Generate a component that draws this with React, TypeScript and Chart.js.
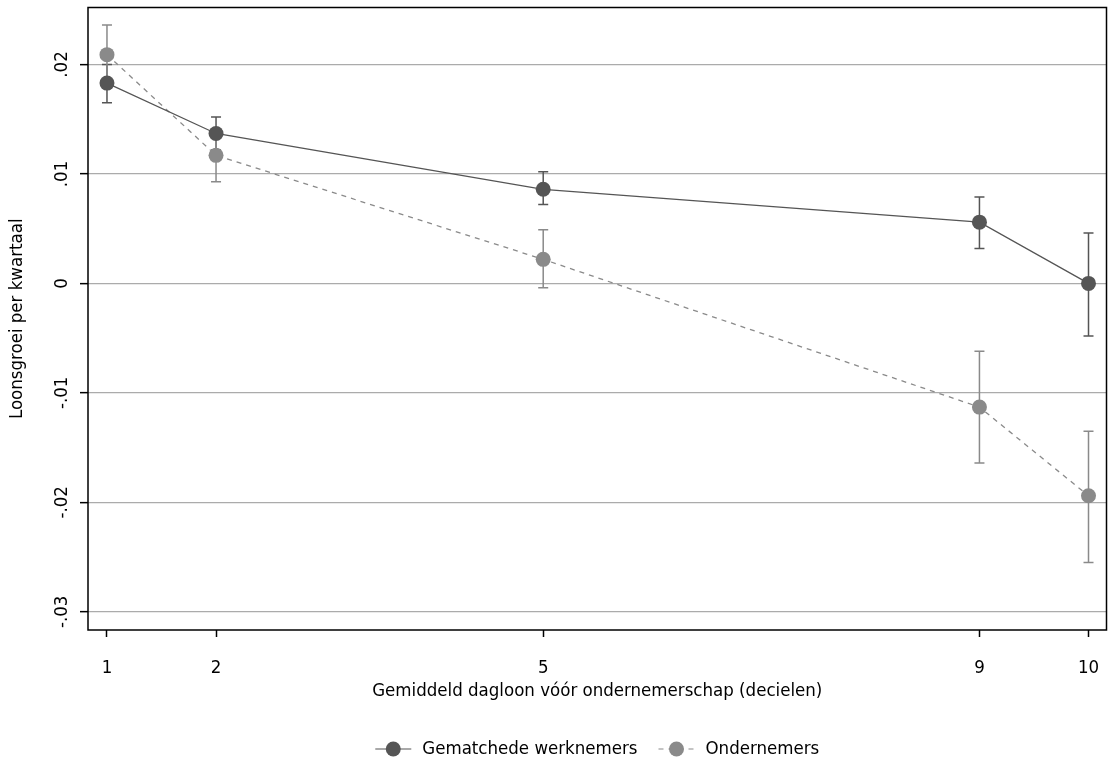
import React, { useEffect, useRef } from "react";
import { Chart, registerables } from "chart.js";

Chart.register(...registerables);

// ---- Data ----
const deciles = [1, 2, 5, 9, 10];
const xTickLabels = ["1", "2", "5", "9", "10"];
const werknemers = [0.0183, 0.0137, 0.0086, 0.0056, 0.0];
const werknemersLow = [0.0165, 0.0122, 0.0072, 0.0032, -0.0048];
const werknemersHigh = [0.02, 0.0152, 0.0102, 0.0079, 0.0046];
const ondernemers = [0.0209, 0.0117, 0.0022, -0.0113, -0.0194];
const ondernemersLow = [0.0182, 0.0093, -0.0004, -0.0164, -0.0255];
const ondernemersHigh = [0.0236, 0.0141, 0.0049, -0.0062, -0.0135];
const yTicks = [-0.03, -0.02, -0.01, 0, 0.01, 0.02];
const yTickLabels = ["-.03", "-.02", "-.01", "0", ".01", ".02"];
const seriesLabels = ["Gematchede werknemers", "Ondernemers"];
const xTitle = "Gemiddeld dagloon vóór ondernemerschap (decielen)";
const yTitle = "Loonsgroei per kwartaal";

// ---- Styles ----
const DARK = "#555555";
const LIGHT = "#8a8a8a";
const FONT = '"DejaVu Sans Condensed", "DejaVu Sans", sans-serif';
const FS = 18.5;
const R = 7.5;

const decor = {
  id: "decor",
  beforeDatasetsDraw(chart: any) {
    const ctx = chart.ctx;
    const xs = chart.scales.x;
    const ys = chart.scales.y;
    const sets: any[] = [
      [werknemersLow, werknemersHigh, DARK],
      [ondernemersLow, ondernemersHigh, LIGHT],
    ];
    ctx.save();
    sets.forEach(([lo, hi, col]) => {
      ctx.strokeStyle = col;
      ctx.lineWidth = 1.5;
      deciles.forEach((d, i) => {
        const px = xs.getPixelForValue(d);
        const y1 = ys.getPixelForValue(lo[i]);
        const y2 = ys.getPixelForValue(hi[i]);
        ctx.beginPath();
        ctx.moveTo(px, y1);
        ctx.lineTo(px, y2);
        ctx.moveTo(px - 5, y1);
        ctx.lineTo(px + 5, y1);
        ctx.moveTo(px - 5, y2);
        ctx.lineTo(px + 5, y2);
        ctx.stroke();
      });
    });
    ctx.restore();
  },
  afterDraw(chart: any) {
    const ctx = chart.ctx;
    const a = chart.chartArea;
    const xs = chart.scales.x;
    const ys = chart.scales.y;
    ctx.save();
    // frame
    ctx.strokeStyle = "#000";
    ctx.lineWidth = 1.5;
    ctx.strokeRect(a.left, a.top, a.right - a.left, a.bottom - a.top);

    ctx.fillStyle = "#000";
    ctx.font = `${FS}px ${FONT}`;
    ctx.textAlign = "center";
    ctx.textBaseline = "middle";

    // y tick labels (rotated)
    yTicks.forEach((v, i) => {
      const py = ys.getPixelForValue(v);
      ctx.save();
      ctx.translate(62, py);
      ctx.rotate(-Math.PI / 2);
      ctx.fillText(yTickLabels[i], 0, 0);
      ctx.restore();
    });
    // y title
    ctx.save();
    ctx.translate(17, (a.top + a.bottom) / 2);
    ctx.rotate(-Math.PI / 2);
    ctx.fillText(yTitle, 0, 0);
    ctx.restore();

    // x tick labels
    deciles.forEach((d, i) => {
      ctx.fillText(xTickLabels[i], xs.getPixelForValue(d), 668);
    });
    // x title
    ctx.fillText(xTitle, (a.left + a.right) / 2, 691);

    // legend
    const ly = 749;
    const sample = 36;
    const gapText = 11;
    const gapItem = 21;
    ctx.textAlign = "left";
    const w1 = ctx.measureText(seriesLabels[0]).width;
    const w2 = ctx.measureText(seriesLabels[1]).width;
    const total = sample + gapText + w1 + gapItem + sample + gapText + w2;
    let lx = (a.left + a.right) / 2 - total / 2;
    const items: any[] = [
      [seriesLabels[0], DARK, [], w1],
      [seriesLabels[1], LIGHT, [5, 5], w2],
    ];
    items.forEach(([label, col, dash, w]) => {
      ctx.strokeStyle = col;
      ctx.lineWidth = 1.2;
      ctx.setLineDash(dash);
      ctx.beginPath();
      ctx.moveTo(lx, ly);
      ctx.lineTo(lx + sample, ly);
      ctx.stroke();
      ctx.setLineDash([]);
      ctx.fillStyle = col;
      ctx.beginPath();
      ctx.arc(lx + sample / 2, ly, R, 0, Math.PI * 2);
      ctx.fill();
      ctx.fillStyle = "#000";
      ctx.fillText(label, lx + sample + gapText, ly);
      lx += sample + gapText + w + gapItem;
    });
    ctx.restore();
  },
};

export default function App() {
  const ref = useRef<HTMLCanvasElement | null>(null);
  useEffect(() => {
    if (!ref.current) return;
    const chart = new Chart(ref.current, {
      type: "line",
      data: {
        datasets: [
          {
            label: seriesLabels[0],
            data: deciles.map((d, i) => ({ x: d, y: werknemers[i] })),
            borderColor: DARK,
            backgroundColor: DARK,
            borderWidth: 1.3,
            pointRadius: R,
            pointBorderWidth: 0,
            pointBackgroundColor: DARK,
            tension: 0,
          },
          {
            label: seriesLabels[1],
            data: deciles.map((d, i) => ({ x: d, y: ondernemers[i] })),
            borderColor: LIGHT,
            backgroundColor: LIGHT,
            borderWidth: 1.3,
            borderDash: [5, 5],
            pointRadius: R,
            pointBorderWidth: 0,
            pointBackgroundColor: LIGHT,
            tension: 0,
          },
        ],
      },
      options: {
        responsive: false,
        animation: false,
        layout: { padding: { top: 5, right: 7, left: 0, bottom: 0 } },
        plugins: { legend: { display: false }, tooltip: { enabled: false } },
        scales: {
          x: {
            type: "linear",
            min: 0.826,
            max: 10.165,
            afterBuildTicks: (s: any) => {
              s.ticks = deciles.map((v) => ({ value: v }));
            },
            afterFit: (s: any) => {
              s.height = 134;
            },
            ticks: { display: false },
            grid: {
              display: true,
              drawOnChartArea: false,
              drawTicks: true,
              tickLength: 7,
              tickColor: "#000",
              tickWidth: 1.5,
            },
            border: { display: false },
          },
          y: {
            type: "linear",
            min: -0.031664,
            max: 0.025209,
            afterBuildTicks: (s: any) => {
              s.ticks = yTicks.map((v) => ({ value: v }));
            },
            afterFit: (s: any) => {
              s.width = 88;
            },
            ticks: { display: false },
            grid: {
              display: true,
              color: "#ababab",
              lineWidth: 1.3,
              drawTicks: true,
              tickLength: 8,
              tickColor: "#000",
              tickWidth: 1.5,
            },
            border: { display: false },
          },
        },
      },
      plugins: [decor],
    } as any);
    return () => chart.destroy();
  }, []);
  return (
    <div style={{ position: "absolute", left: 0, top: 0, width: 1114, height: 764, background: "#fff" }}>
      <canvas ref={ref} width={1114} height={764} />
    </div>
  );
}
